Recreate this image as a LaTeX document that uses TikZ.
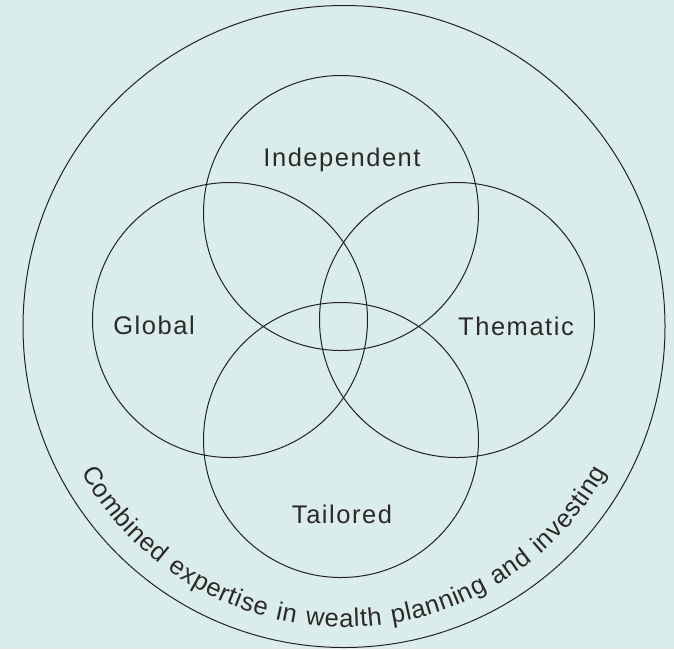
\documentclass[tikz,border=0pt]{standalone}
\usepackage{fontspec}
\setmainfont{Liberation Sans}[LetterSpace=6]
\usepackage{xcolor}
\usetikzlibrary{decorations.text}
\definecolor{mintbg}{RGB}{218,237,234}
\definecolor{inkline}{RGB}{34,34,34}
\definecolor{inktext}{RGB}{42,42,42}
\newcommand{\vennfont}{\fontsize{25.5}{30}\selectfont}

\begin{document}
\begin{tikzpicture}[x=1pt,y=1pt,yscale=-1,xscale=1]
	%set diagram left start at 0, and has height of 649
	\useasboundingbox (0,0) rectangle (674,649);
	\fill[mintbg] (0,0) rectangle (674,649);

	%Shape: Circle [outer]
	\draw[inkline, line width=1pt] (344,326.5) circle (321);
	%Shape: Circle [Independent]
	\draw[inkline, line width=1pt] (341,213) circle (137.5);
	%Shape: Circle [Global]
	\draw[inkline, line width=1pt] (230,320) circle (137.5);
	%Shape: Circle [Thematic]
	\draw[inkline, line width=1pt] (457,320) circle (137.5);
	%Shape: Circle [Tailored]
	\draw[inkline, line width=1pt] (341,440) circle (137.5);

	% Text Node
	\node[anchor=base, text=inktext, font=\vennfont] (indep) at (342,166.7) {Independent};
	% Text Node
	\node[anchor=base, text=inktext, font=\vennfont] (global) at (154,334) {Global};
	% Text Node
	\node[anchor=base, text=inktext, font=\vennfont] (thematic) at (516,335) {Thematic};
	% Text Node
	\node[anchor=base, text=inktext, font=\vennfont] (tailored) at (342,523.3) {Tailored};

	%Text along the outer circle
	\begin{scope}[yscale=-1]
		\path[decorate, decoration={text along path, text align=fit to path, text color=inktext,
			text={|\vennfont|Combined expertise in wealth planning and investing}}]
			(344,-326.5) ++(209:300.5) arc (209:331:300.5);
	\end{scope}
\end{tikzpicture}
\end{document}
